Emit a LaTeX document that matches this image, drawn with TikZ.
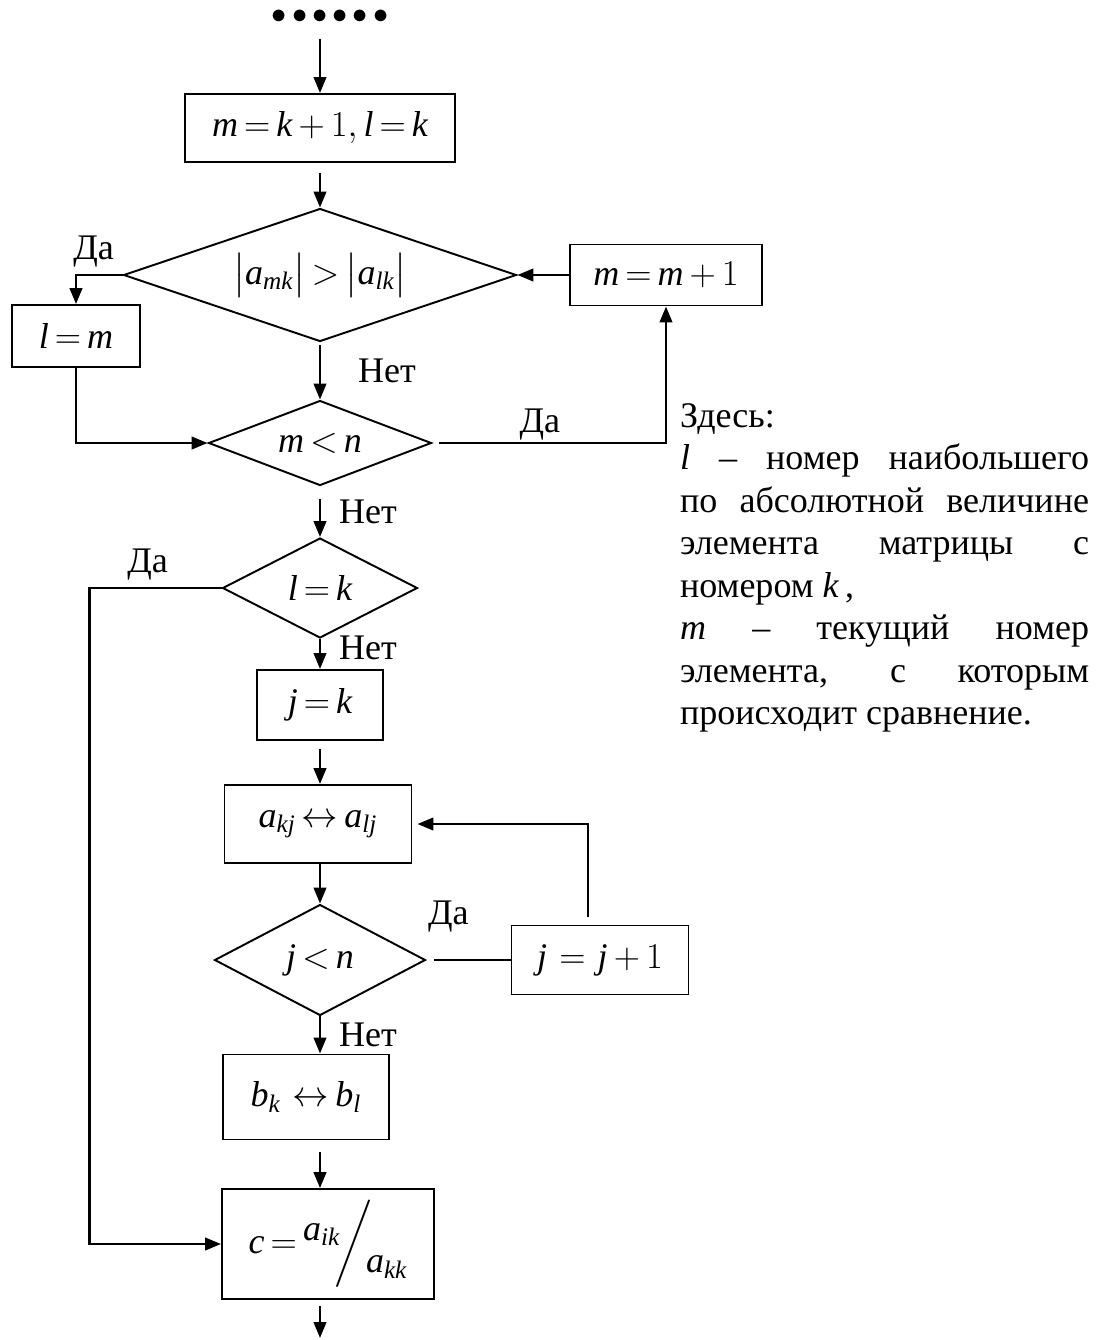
\documentclass[tikz,border=0pt]{standalone}
\usepackage{fontspec}
\setmainfont{Liberation Serif}
\usepackage{amsmath}
\usepackage{tikz}
\usetikzlibrary{arrows.meta, positioning, shapes.geometric}

\newcommand{\vr}[1]{\textit{#1}}
\thickmuskip=3mu plus 2mu\relax
\medmuskip=3mu plus 1mu\relax

\begin{document}
\begin{tikzpicture}[
  x=0.02cm, y=-0.02cm,
  font=\fontsize{20.5}{24.2}\selectfont,
  block/.style={draw, line width=1.1pt, inner sep=2pt, align=center},
  decision/.style={diamond, draw, line width=1.1pt, inner sep=1pt, aspect=2.5},
  arrow/.style={-{Triangle[length=0.32cm, width=0.25cm]}, line width=1.5pt},
  link/.style={line width=1.5pt},
  answer/.style={inner sep=1pt},
]
\useasboundingbox (0,0) rectangle (1106,1340);

\node[inner sep=0pt, font=\fontsize{16}{16}\selectfont] (dots) at (330,17)
  {${\bullet}\mkern3mu{\bullet}\mkern3mu{\bullet}\mkern3mu{\bullet}\mkern3mu{\bullet}\mkern3mu{\bullet}$};
\node[block, minimum width=5.4cm, minimum height=1.36cm] (init) at (320,128)
  {$\vr{m}=\vr{k}+1,\vr{l}=\vr{k}$};
\node[decision, minimum width=7.86cm, minimum height=2.66cm] (cmpabs) at (320,275)
  {$\bigl|\vr{a}_{\vr{mk}}\bigr|>\bigl|\vr{a}_{\vr{lk}}\bigr|$};
\node[block, minimum width=2.56cm, minimum height=1.24cm] (lm) at (76,336) {$\vr{l}=\vr{m}$};
\node[block, minimum width=3.84cm, minimum height=1.22cm] (minc) at (666,275) {$\vr{m}=\vr{m}+1$};
\node[decision, minimum width=4.46cm, minimum height=1.7cm] (mlt) at (320,443) {$\vr{m}<\vr{n}$};
\node[decision, minimum width=3.9cm, minimum height=2.0cm] (lk) at (320,588) {$\vr{l}=\vr{k}$};
\node[block, minimum width=2.52cm, minimum height=1.4cm] (jk) at (320,705) {$\vr{j}=\vr{k}$};
\node[block, minimum width=3.74cm, minimum height=1.56cm] (swapa) at (318,824)
  {$\vr{a}_{\vr{kj}}\leftrightarrow \vr{a}_{\vr{lj}}$};
\node[decision, minimum width=4.22cm, minimum height=2.22cm] (jlt) at (320,960) {$\vr{j}<\vr{n}$};
\node[block, minimum width=3.54cm, minimum height=1.38cm] (jinc) at (600,960) {$\vr{j}\:=\:\vr{j}+1$};
\node[block, minimum width=3.32cm, minimum height=1.7cm] (swapb) at (306,1097)
  {$\vr{b}_{\vr{k}}\;\leftrightarrow \vr{b}_{\vr{l}}$};
\node[block, minimum width=4.24cm, minimum height=2.2cm] (cdiv) at (328,1244)
  {$\vr{c}=\raisebox{0.35em}{$\vr{a}_{\vr{ik}}$}\!\bigg/\!\raisebox{-0.55em}{$\vr{a}_{\vr{kk}}$}$};
\coordinate (exit) at (320,1338);

\node[answer, anchor=base west, text width=8.18cm, align=justify] (note) at (678,427)
  {Здесь:\\
   \vr{l} – номер наибольшего\linebreak
   по абсолютной величине\linebreak
   элемента матрицы с\linebreak
   номером \vr{k}\,,\\
   \vr{m} – текущий номер\linebreak
   элемента, с которым\linebreak
   происходит сравнение.};

\draw[arrow, shorten <=0.3cm] (init.north |- dots.south) -- (init);
\draw[arrow, shorten <=0.2cm] (init) -- (cmpabs);
\draw[arrow] (cmpabs.west) -| (lm.north) node[answer, above, pos=0.31, yshift=0.1cm] {Да};
\draw[arrow] (lm.south) |- (mlt.west);
\draw[arrow, shorten <=0.06cm] (cmpabs.south) -- (mlt.north) node[answer, midway, right=0.7cm] {Нет};
\draw[arrow, shorten <=0.14cm] (mlt.east) -| (minc.south) node[answer, above, pos=0.23] {Да};
\draw[arrow] (minc.west) -- (cmpabs.east);
\draw[arrow, shorten <=0.26cm] (mlt.south) -- (lk.north) node[answer, midway, right=0.32cm] {Нет};
\draw[arrow] (lk.west) -- ++(-132,0) node[answer, above, pos=0.56, yshift=0.1cm] {Да} |- (cdiv.west);
\draw[arrow] (lk.south) -- (jk.north) node[answer, pos=0.3, right=0.32cm] {Нет};
\draw[arrow, shorten <=0.16cm] (jk) -- (jk |- swapa.north);
\draw[arrow] (jk |- swapa.south) -- (jlt);
\draw[link, shorten <=0.16cm] (jlt.east) -- (jinc.west) node[answer, pos=0.26, above, yshift=0.5cm] {Да};
\draw[arrow, shorten <=0.16cm, shorten >=0.1cm] ([xshift=-0.24cm]jinc.north) |- (swapa.east);
\draw[arrow] (jlt.south) -- (jlt.south |- swapb.north) node[answer, midway, right=0.32cm] {Нет};
\draw[arrow, shorten <=0.24cm] (jlt.south |- swapb.south) -- (jlt.south |- cdiv.north);
\draw[arrow, shorten <=0.12cm] (jlt.south |- cdiv.south) -- (exit);
\end{tikzpicture}
\end{document}
